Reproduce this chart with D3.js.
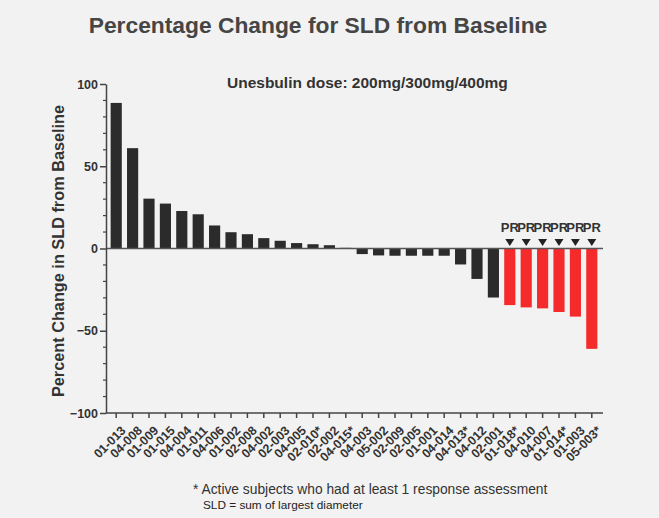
<!DOCTYPE html>
<html>
<head>
<meta charset="utf-8">
<script src="https://cdn.jsdelivr.net/npm/d3@7"></script>
<style>
  body { margin: 0; background: #f2f2f2; }
  svg { display: block; font-family: "Liberation Sans", Arial, sans-serif; }
</style>
</head>
<body>
<svg id="chart" width="659" height="518"></svg>
<script>
// subjects in plotted order
const subjects = ["01-013","04-008","01-009","01-015","04-004","01-011","04-006","01-002","02-008","04-002",
  "02-003","04-005","02-010*","02-002","04-015*","04-003","05-002","02-009","02-005","01-001",
  "04-014","04-013*","04-012","02-001","01-018*","04-010","04-007","01-014*","01-003","05-003*"]
const pctChange = [88.5, 61, 30.3, 27.3, 22.8, 20.8, 14, 9.9, 8.7, 6.3,
  4.7, 3.3, 2.6, 2.0, 0.4, -3.4, -4.2, -4.4, -4.4, -4.4,
  -4.4, -9.7, -18.5, -29.8, -34.4, -35.8, -36.4, -38.6, -41.4, -61]
const response = ["","","","","","","","","","","","","","","","","","","","",
  "","","","","PR","PR","PR","PR","PR","PR"]
const yTicks = [-100, -50, 0, 50, 100]

const svg = d3.select('#chart')
const W = 659, H = 518

svg.append("rect").attr("width", W).attr("height", H).attr("fill", "#f2f2f2")

var x = d3.scaleBand()
  .domain(subjects)
  .range([108, 600])
  .paddingInner(0.32)
  .paddingOuter(0.16)

var y = d3.scaleLinear()
  .domain([-100, 100])
  .range([413, 84])

// title
svg.append("text")
  .attr("x", 318).attr("y", 33)
  .attr("text-anchor", "middle")
  .attr("font-size", 22.8).attr("font-weight", "bold")
  .attr("fill", "#454545")
  .text("Percentage Change for SLD from Baseline")

svg.append("text")
  .attr("x", 227).attr("y", 88)
  .attr("font-size", 15.5).attr("font-weight", "bold")
  .attr("fill", "#333")
  .text("Unesbulin dose: 200mg/300mg/400mg")

// bars
svg.append("g")
  .selectAll("rect")
  .data(d3.zip(subjects, pctChange, response))
  .enter()
  .append("rect")
  .attr("x", d => x(d[0]))
  .attr("width", x.bandwidth())
  .attr("y", d => y(Math.max(0, d[1])))
  .attr("height", d => Math.abs(y(d[1]) - y(0)))
  .attr("fill", d => d[2] == "PR" ? "#f52b2b" : "#2b2b2b")

// zero line
svg.append("line")
  .attr("x1", 106).attr("x2", 603)
  .attr("y1", y(0)).attr("y2", y(0))
  .attr("stroke", "#555").attr("stroke-width", 1.5)

// PR markers
const pr = d3.zip(subjects, response).filter(d => d[1] == "PR")
svg.append("g").selectAll("path")
  .data(pr).enter().append("path")
  .attr("d", d => {
    const cx = x(d[0]) + x.bandwidth() / 2
    return "M" + (cx - 4.5) + ",239 L" + (cx + 4.5) + ",239 L" + cx + ",246 Z"
  })
  .attr("fill", "#222")
svg.append("g").selectAll("text")
  .data(pr).enter().append("text")
  .attr("x", d => x(d[0]) + x.bandwidth() / 2)
  .attr("y", 232)
  .attr("text-anchor", "middle")
  .attr("font-size", 13).attr("font-weight", "bold")
  .attr("fill", "#333")
  .text(d => d[1])

// y axis
const yAxis = svg.append("g").attr("transform", "translate(106,0)")
yAxis.call(d3.axisLeft(y).tickValues(yTicks).tickSize(6).tickSizeOuter(0))
yAxis.append("g").selectAll("line")
  .data(d3.range(-100, 101, 10).filter(v => v % 50 != 0))
  .enter().append("line")
  .attr("x1", -3).attr("x2", 0)
  .attr("y1", d => y(d)).attr("y2", d => y(d))
  .attr("stroke", "#444").attr("stroke-width", 1.2)
yAxis.select(".domain").attr("stroke", "#444").attr("stroke-width", 1.5)
yAxis.selectAll(".tick line").attr("stroke", "#444").attr("stroke-width", 1.5)
yAxis.selectAll(".tick text")
  .attr("font-size", 12.5).attr("font-weight", "bold")
  .attr("fill", "#333").attr("font-family", "Liberation Sans, Arial, sans-serif")
  .attr("x", -8)

svg.append("text")
  .attr("transform", "translate(64,251) rotate(-90)")
  .attr("text-anchor", "middle")
  .attr("font-size", 16.3).attr("font-weight", "bold")
  .attr("fill", "#333")
  .text("Percent Change in SLD from Baseline")

// x axis
const xAxis = svg.append("g").attr("transform", "translate(0,413)")
xAxis.call(d3.axisBottom(x).tickSize(5).tickSizeOuter(0))
xAxis.select(".domain").attr("d", "M106,0H603").attr("stroke", "#444").attr("stroke-width", 1.5)
xAxis.selectAll(".tick line").attr("stroke", "#444").attr("stroke-width", 1.5)
xAxis.selectAll(".tick text")
  .attr("font-size", 12.5).attr("font-weight", "bold")
  .attr("fill", "#333").attr("font-family", "Liberation Sans, Arial, sans-serif")
  .attr("text-anchor", "end")
  .attr("transform", "translate(4,12) rotate(-45)")
  .attr("y", 0)
  .attr("dy", "0.71em")

// footnotes
svg.append("text")
  .attr("x", 193).attr("y", 494)
  .attr("font-size", 13.8)
  .attr("fill", "#333")
  .text("* Active subjects who had at least 1 response assessment")
svg.append("text")
  .attr("x", 203).attr("y", 509)
  .attr("font-size", 11.8)
  .attr("fill", "#222")
  .text("SLD = sum of largest diameter")
</script>
</body>
</html>
